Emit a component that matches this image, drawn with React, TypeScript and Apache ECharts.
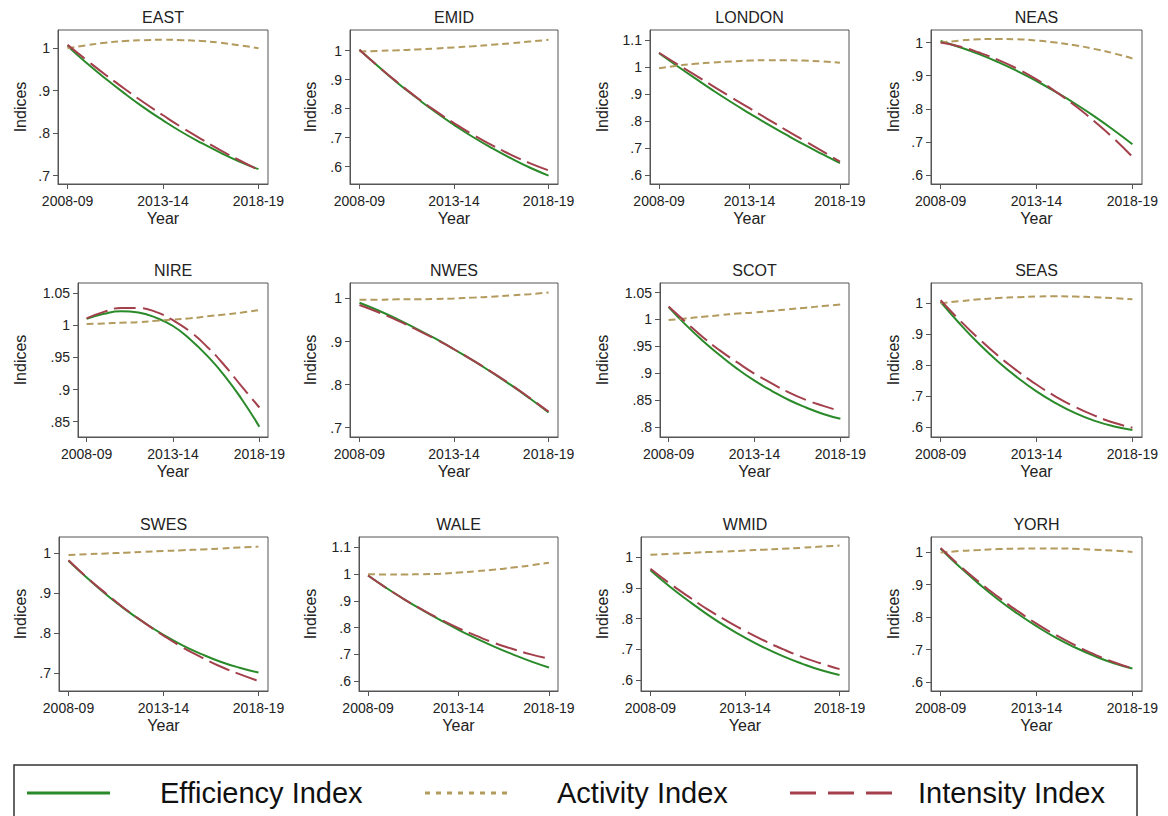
import React, { useEffect, useRef } from "react";
import * as echarts from "echarts";

// ---------- data ----------
const years = ["2008-09", "2009-10", "2010-11", "2011-12", "2012-13", "2013-14", "2014-15", "2015-16", "2016-17", "2017-18", "2018-19"];
const regions = ["EAST", "EMID", "LONDON", "NEAS", "NIRE", "NWES", "SCOT", "SEAS", "SWES", "WALE", "WMID", "YORH"];
const seriesNames = ["Efficiency Index", "Activity Index", "Intensity Index"];

const eastEff = [1.005, 0.965, 0.928, 0.893, 0.86, 0.83, 0.802, 0.777, 0.754, 0.733, 0.715];
const eastAct = [1.0, 1.007, 1.013, 1.017, 1.019, 1.02, 1.019, 1.017, 1.013, 1.007, 1.0];
const eastInt = [1.008, 0.972, 0.937, 0.904, 0.872, 0.842, 0.813, 0.786, 0.76, 0.736, 0.713];

const emidEff = [1.003, 0.945, 0.889, 0.838, 0.789, 0.744, 0.702, 0.664, 0.629, 0.597, 0.569];
const emidAct = [0.997, 0.999, 1.001, 1.004, 1.007, 1.011, 1.015, 1.02, 1.025, 1.031, 1.037];
const emidInt = [1.003, 0.945, 0.891, 0.84, 0.793, 0.75, 0.71, 0.674, 0.641, 0.612, 0.587];

const londonEff = [1.051, 1.004, 0.958, 0.913, 0.87, 0.829, 0.789, 0.751, 0.714, 0.679, 0.645];
const londonAct = [0.996, 1.005, 1.012, 1.017, 1.021, 1.024, 1.025, 1.025, 1.024, 1.021, 1.016];
const londonInt = [1.053, 1.011, 0.97, 0.929, 0.888, 0.848, 0.808, 0.768, 0.729, 0.69, 0.651];

const neasEff = [1.005, 0.986, 0.965, 0.941, 0.914, 0.884, 0.851, 0.816, 0.778, 0.737, 0.693];
const neasAct = [1.0, 1.006, 1.01, 1.011, 1.01, 1.006, 1.0, 0.992, 0.981, 0.968, 0.952];
const neasInt = [1.0, 0.988, 0.97, 0.948, 0.921, 0.889, 0.852, 0.81, 0.763, 0.712, 0.655];

const nireEff = [1.01, 1.018, 1.022, 1.02, 1.012, 0.999, 0.978, 0.952, 0.921, 0.884, 0.842];
const nireAct = [1.002, 1.003, 1.004, 1.005, 1.007, 1.009, 1.011, 1.014, 1.017, 1.02, 1.024];
const nireInt = [1.011, 1.021, 1.027, 1.027, 1.021, 1.008, 0.99, 0.966, 0.937, 0.904, 0.872];

const nwesEff = [0.99, 0.972, 0.952, 0.93, 0.907, 0.882, 0.856, 0.828, 0.799, 0.768, 0.735];
const nwesAct = [0.997, 0.997, 0.998, 0.998, 0.999, 1.0, 1.002, 1.004, 1.007, 1.01, 1.014];
const nwesInt = [0.985, 0.968, 0.949, 0.928, 0.906, 0.882, 0.856, 0.829, 0.8, 0.769, 0.737];

const scotEff = [1.023, 0.99, 0.96, 0.933, 0.908, 0.886, 0.867, 0.85, 0.836, 0.824, 0.815];
const scotAct = [0.999, 1.002, 1.005, 1.008, 1.011, 1.013, 1.016, 1.019, 1.022, 1.025, 1.028];
const scotInt = [1.024, 0.995, 0.967, 0.942, 0.92, 0.899, 0.881, 0.864, 0.85, 0.839, 0.829];

const seasEff = [1.005, 0.934, 0.869, 0.811, 0.76, 0.715, 0.677, 0.645, 0.62, 0.602, 0.59];
const seasAct = [1.0, 1.007, 1.013, 1.017, 1.02, 1.022, 1.023, 1.022, 1.02, 1.017, 1.013];
const seasInt = [1.01, 0.945, 0.885, 0.83, 0.781, 0.737, 0.698, 0.665, 0.637, 0.614, 0.597];

const swesEff = [0.981, 0.937, 0.896, 0.859, 0.826, 0.796, 0.77, 0.748, 0.729, 0.714, 0.702];
const swesAct = [0.995, 0.997, 0.999, 1.001, 1.003, 1.005, 1.007, 1.009, 1.011, 1.014, 1.016];
const swesInt = [0.982, 0.938, 0.898, 0.86, 0.826, 0.794, 0.765, 0.74, 0.717, 0.698, 0.681];

const waleEff = [0.995, 0.949, 0.906, 0.866, 0.828, 0.792, 0.759, 0.728, 0.7, 0.674, 0.651];
const waleAct = [1.0, 0.999, 0.999, 1.0, 1.002, 1.006, 1.011, 1.017, 1.025, 1.033, 1.043];
const waleInt = [0.995, 0.949, 0.906, 0.867, 0.831, 0.798, 0.769, 0.742, 0.72, 0.7, 0.684];

const wmidEff = [0.957, 0.905, 0.858, 0.814, 0.774, 0.738, 0.706, 0.678, 0.654, 0.633, 0.617];
const wmidAct = [1.007, 1.01, 1.013, 1.016, 1.018, 1.021, 1.024, 1.027, 1.03, 1.034, 1.037];
const wmidInt = [0.962, 0.915, 0.872, 0.831, 0.794, 0.76, 0.729, 0.701, 0.676, 0.655, 0.636];

const yorhEff = [1.01, 0.954, 0.902, 0.854, 0.811, 0.772, 0.737, 0.707, 0.681, 0.659, 0.642];
const yorhAct = [0.998, 1.003, 1.006, 1.009, 1.01, 1.011, 1.011, 1.01, 1.007, 1.004, 1.0];
const yorhInt = [1.012, 0.958, 0.908, 0.862, 0.819, 0.78, 0.745, 0.714, 0.686, 0.662, 0.642];

const efficiency = [eastEff, emidEff, londonEff, neasEff, nireEff, nwesEff, scotEff, seasEff, swesEff, waleEff, wmidEff, yorhEff];
const activity = [eastAct, emidAct, londonAct, neasAct, nireAct, nwesAct, scotAct, seasAct, swesAct, waleAct, wmidAct, yorhAct];
const intensity = [eastInt, emidInt, londonInt, neasInt, nireInt, nwesInt, scotInt, seasInt, swesInt, waleInt, wmidInt, yorhInt];

// y-axis ranges and tick labels per panel
const yMin = [0.68, 0.54, 0.568, 0.573, 0.826, 0.678, 0.781, 0.567, 0.656, 0.563, 0.565, 0.573];
const yMax = [1.043, 1.071, 1.137, 1.038, 1.066, 1.036, 1.068, 1.066, 1.04, 1.139, 1.065, 1.046];
const yTicks = [
  [0.7, 0.8, 0.9, 1],
  [0.6, 0.7, 0.8, 0.9, 1],
  [0.6, 0.7, 0.8, 0.9, 1, 1.1],
  [0.6, 0.7, 0.8, 0.9, 1],
  [0.85, 0.9, 0.95, 1, 1.05],
  [0.7, 0.8, 0.9, 1],
  [0.8, 0.85, 0.9, 0.95, 1, 1.05],
  [0.6, 0.7, 0.8, 0.9, 1],
  [0.7, 0.8, 0.9, 1],
  [0.6, 0.7, 0.8, 0.9, 1, 1.1],
  [0.6, 0.7, 0.8, 0.9, 1],
  [0.6, 0.7, 0.8, 0.9, 1],
];

// ---------- layout / style ----------
const plotLeft = [58, 350, 650, 931, 78, 350, 660, 931, 59, 359, 641, 931];
const plotRight = [268, 558, 849, 1142];
const rowTop = [30, 283, 537];
const plotHeight = 154;
const indicesX = [20, 310, 602, 893];

const FONT = "'Liberation Sans', Arial, Helvetica, sans-serif";
const TEXT = "#222";
const GREEN = "#2a8a2a";
const SAND = "#b39b5e";
const MAROON = "#a3404c";

const fmt = (v: number) => {
  const s = String(Math.round(v * 1000) / 1000);
  return s.startsWith("0.") ? s.slice(1) : s;
};

function buildOption() {
  const grids: any[] = [];
  const xAxes: any[] = [];
  const yAxes: any[] = [];
  const titles: any[] = [];
  const series: any[] = [];

  regions.forEach((name, i) => {
    const col = i % 4;
    const row = Math.floor(i / 4);
    const left = plotLeft[i];
    const width = plotRight[col] - left;
    const top = rowTop[row];
    grids.push({
      left,
      top,
      width,
      height: plotHeight,
      show: true,
      borderColor: "#555",
      borderWidth: 1,
      backgroundColor: "#fff",
    });
    titles.push({
      text: name,
      left: left + width / 2,
      top: top - 21,
      textAlign: "center",
      padding: 0,
      textStyle: { fontFamily: FONT, fontSize: 16, fontWeight: "normal", color: TEXT },
    });
    xAxes.push({
      type: "category",
      gridIndex: i,
      data: years,
      boundaryGap: true,
      name: "Year",
      nameLocation: "middle",
      nameGap: 26,
      nameTextStyle: { fontFamily: FONT, fontSize: 16, color: TEXT },
      axisLine: { show: true, lineStyle: { color: "#555", width: 1 } },
      axisTick: { show: true, alignWithLabel: true, interval: 4, length: 5, lineStyle: { color: "#555" } },
      axisLabel: { interval: 4, margin: 10, fontFamily: FONT, fontSize: 14, color: TEXT },
      splitLine: { show: false },
    });
    yAxes.push({
      type: "value",
      gridIndex: i,
      min: yMin[i],
      max: yMax[i],
      name: "Indices",
      nameLocation: "middle",
      nameGap: left - indicesX[col] - 8,
      nameTextStyle: { fontFamily: FONT, fontSize: 16, color: TEXT },
      axisLine: { show: true, lineStyle: { color: "#555", width: 1 } },
      axisTick: { show: true, length: 5, customValues: yTicks[i], lineStyle: { color: "#555" } },
      axisLabel: {
        customValues: yTicks[i],
        margin: 8,
        fontFamily: FONT,
        fontSize: 14,
        color: TEXT,
        formatter: (v: number) => fmt(v),
      },
      splitLine: { show: false },
    });
    const common = {
      type: "line",
      xAxisIndex: i,
      yAxisIndex: i,
      showSymbol: false,
      symbol: "none",
      smooth: true,
    };
    series.push({ ...common, name: seriesNames[0], data: efficiency[i], lineStyle: { color: GREEN, width: 2, type: "solid" }, z: 2 });
    series.push({ ...common, name: seriesNames[1], data: activity[i], lineStyle: { color: SAND, width: 2, type: [7, 4] }, z: 3 });
    series.push({ ...common, name: seriesNames[2], data: intensity[i], lineStyle: { color: MAROON, width: 2, type: [22, 7] }, z: 4 });
  });

  const legendY = 793;
  const legendText = { fontFamily: FONT, fontSize: 29, fill: "#111" };
  const graphic: any[] = [
    { type: "rect", shape: { x: 14, y: 765, width: 1123, height: 70 }, style: { fill: "none", stroke: "#333", lineWidth: 1.5 }, silent: true },
    { type: "line", shape: { x1: 27, y1: legendY, x2: 110, y2: legendY }, style: { stroke: GREEN, lineWidth: 3 } },
    { type: "text", x: 160, y: legendY, style: { ...legendText, text: seriesNames[0], verticalAlign: "middle" } },
    { type: "line", shape: { x1: 425, y1: legendY, x2: 510, y2: legendY }, style: { stroke: SAND, lineWidth: 3, lineDash: [5, 6] } },
    { type: "text", x: 557, y: legendY, style: { ...legendText, text: seriesNames[1], verticalAlign: "middle" } },
    { type: "line", shape: { x1: 790, y1: legendY, x2: 892, y2: legendY }, style: { stroke: MAROON, lineWidth: 3, lineDash: [26, 12] } },
    { type: "text", x: 918, y: legendY, style: { ...legendText, text: seriesNames[2], verticalAlign: "middle" } },
  ];

  return {
    animation: false,
    backgroundColor: "#fff",
    textStyle: { fontFamily: FONT },
    title: titles,
    grid: grids,
    xAxis: xAxes,
    yAxis: yAxes,
    series,
    graphic,
  };
}

export default function App() {
  const ref = useRef<HTMLDivElement>(null);
  useEffect(() => {
    if (!ref.current) return;
    const chart = echarts.init(ref.current, undefined, { renderer: "svg" });
    chart.setOption(buildOption() as any);
    return () => chart.dispose();
  }, []);
  return (
    <div
      ref={ref}
      style={{ position: "fixed", left: 0, top: 0, width: 1168, height: 816, background: "#fff" }}
    />
  );
}
